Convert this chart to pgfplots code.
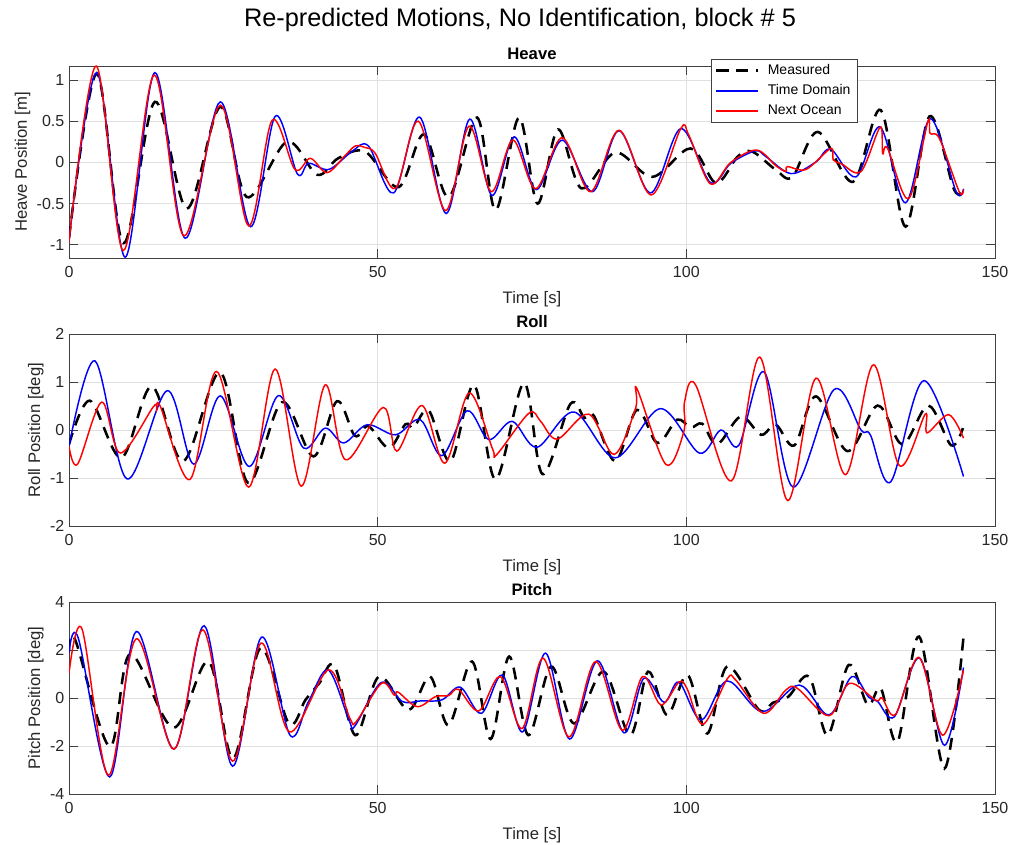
\documentclass[border=0pt]{standalone}
\usepackage{fontspec}
\setmainfont{Liberation Sans}
\usepackage{pgfplots}
\pgfplotsset{compat=1.18}
\begin{document}
\begin{tikzpicture}
\useasboundingbox (0,0) rectangle (757.5pt,-633.75pt);
\pgfplotsset{
 myax/.style={
  scale only axis, width=694.5pt, height=144pt,
  xmin=0, xmax=150, xtick={0,50,100,150},
  grid=major, major grid style={black!12, line width=0.5pt},
  axis line style={black!75, line width=0.6pt},
  tick align=inside, major tick length=6.5pt, tick style={black!75, line width=0.6pt},
  ticklabel style={font=\fontsize{12}{14}\selectfont, black!85},
  xticklabel style={yshift=-3pt},
  label style={font=\fontsize{12.5}{14}\selectfont, black!85},
  title style={font=\bfseries\fontsize{12.5}{14}\selectfont, yshift=-4.5pt},
  xlabel={Time [s]},
  xlabel style={yshift=-3pt},
  ylabel style={yshift=-2pt},
  /pgf/number format/assume math mode=true,
  anchor=north west,
 },
}
\node[font=\fontsize{19}{22}\selectfont, black] at (390pt,-15pt) {Re-predicted Motions, No Identification, block \# 5};

% ---------------- Heave ----------------
\begin{axis}[myax, at={(51.75pt,-49.5pt)},
  ymin=-1.16, ymax=1.17, ytick={-1,-0.5,0,0.5,1},
  title={Heave}, ylabel={Heave Position [m]},
  legend style={at={(rel axis cs:0.693,1.036)}, anchor=north west,
    font=\fontsize{10.5}{12}\selectfont, draw=black!75, row sep=2pt},
  legend cell align=left,
  legend image post style={xscale=1.8},
  ]
\addplot[black, line width=1.9pt, dash pattern=on 9pt off 6pt, smooth, tension=0.55, no markers] coordinates {(0,-0.92) (4.5,1.08) (8.8,-0.98) (13.9,0.735) (19.1,-0.56) (24.5,0.675) (28.8,-0.42) (35.3,0.25) (40.2,-0.15) (43.6,0.05) (48,0.13) (53.4,-0.3) (57.5,0.34) (61.5,-0.42) (66.1,0.545) (69.1,-0.58) (72.9,0.545) (75.9,-0.5) (79.2,0.4) (83.0,-0.315) (88.5,0.12) (94.5,-0.175) (100.7,0.17) (104.8,-0.25) (108.3,0.07) (110.7,0.13) (114.5,-0.09) (117.2,-0.175) (121.3,0.37) (127,-0.235) (131.5,0.635) (135.5,-0.78) (139.4,0.56) (143.4,-0.335) (145,-0.31)};
\addlegendentry{\hspace{5pt}Measured}
\addplot[blue, line width=1.1pt, smooth, tension=0.55, no markers] coordinates {(0,-0.94) (4.5,1.09) (9.1,-1.15) (13.9,1.09) (18.8,-0.92) (24.5,0.735) (29.4,-0.78) (33.4,0.56) (37.0,-0.14) (38.8,-0.01) (42.1,-0.085) (45.8,0.13) (48.5,0.2) (52.6,-0.37) (56.8,0.55) (61.1,-0.62) (64.9,0.525) (68.5,-0.40) (72.1,0.31) (75.7,-0.33) (79.9,0.27) (84.8,-0.355) (89.1,0.385) (94.2,-0.37) (99.1,0.41) (103.9,-0.245) (107.2,-0.01) (111.2,0.14) (112.9,0.07) (116.9,-0.135) (120.9,0) (123.4,0.16) (127.5,-0.175) (131.4,0.43) (135.5,-0.49) (139.5,0.53) (143.7,-0.355) (144.9,-0.32)};
\addlegendentry{\hspace{5pt}Time Domain\hspace{4pt}}
\addplot[red, line width=1.1pt, smooth, tension=0.55, no markers] coordinates {(0,-0.96) (4.4,1.17) (8.8,-1.07) (13.8,1.06) (18.6,-0.89) (24.5,0.695) (29.1,-0.77) (32.9,0.51) (36.6,-0.085) (39.1,0.05) (41.8,-0.125) (44.8,0.09) (46.4,0.2) (48,0.18) (49.6,0.11) (52.9,-0.315) (56.6,0.5) (61.0,-0.585) (64.8,0.44) (68.4,-0.355) (71.9,0.27) (75.6,-0.32) (79.9,0.3) (84.5,-0.355) (89.1,0.39) (94.3,-0.395) (99.1,0.41) (100.4,0.33) (103.9,-0.26) (107.2,0.0) (111.4,0.15) (114.5,-0.04) (116.1,-0.11) (116.4,-0.05) (119.4,-0.085) (123.4,0.17) (123.8,0.03) (125.2,-0.02) (128.3,-0.11) (131.4,0.43) (131.8,0.11) (132.6,0.17) (136,-0.44) (139.1,0.49) (139.5,0.35) (141,0.29) (144.2,-0.355) (144.9,-0.33)};
\addlegendentry{\hspace{5pt}Next Ocean}
\end{axis}

% ---------------- Roll ----------------
\begin{axis}[myax, at={(51.75pt,-250.5pt)},
  ymin=-2, ymax=2, ytick={-2,-1,0,1,2},
  title={Roll}, ylabel={Roll Position [deg]}]
\addplot[black, line width=1.9pt, dash pattern=on 9pt off 6pt, smooth, tension=0.55, no markers] coordinates {(0,-0.3) (3.4,0.61) (8.5,-0.58) (13.4,0.91) (18.5,-0.65) (24.5,1.2) (29,-1.1) (34.5,0.58) (39.6,-0.55) (43.4,0.6) (46.3,-0.12) (48.5,0.08) (51.8,-0.375) (54.5,0.12) (55.8,0.05) (58.3,0.4) (61.8,-0.65) (65.6,0.94) (69.1,-1.03) (73.7,0.98) (76.7,-0.92) (81.2,0.54) (83.5,0.25) (85,0.3) (88.5,-0.65) (92,0.42) (95.3,-0.27) (98.5,0.215) (100.7,0.05) (102.6,0.13) (105,-0.3) (108.8,0.28) (112.1,-0.1) (114.5,0.11) (117.5,-0.32) (121,0.7) (126.1,-0.44) (131,0.51) (135,-0.3) (139.2,0.51) (142.9,-0.32) (144.8,0.04)};
\addplot[blue, line width=1.1pt, smooth, tension=0.55, no markers] coordinates {(0,-0.34) (4.2,1.44) (9.4,-1.02) (15.9,0.82) (20.2,-0.71) (24.5,0.71) (29.2,-0.76) (33.9,0.715) (38.0,-0.375) (41.5,0.04) (44.5,-0.27) (48.3,0.11) (52.9,-0.1) (56.9,0.215) (60.4,-0.535) (64.5,0.4) (68,-0.2) (71.8,0.18) (75.8,-0.36) (81.8,0.375) (88.5,-0.58) (95.8,0.445) (102.1,-0.48) (105.6,0.0) (108.5,-0.32) (112.6,1.21) (117.3,-1.19) (123.9,0.84) (128.3,0.0) (129.8,-0.1) (133.1,-1.08) (138.5,1.03) (144.9,-0.97)};
\addplot[red, line width=1.1pt, smooth, tension=0.55, no markers] coordinates {(0,-0.34) (1.4,-0.71) (5.3,0.58) (8.3,-0.48) (13.7,0.49) (14.2,0.42) (14.8,0.49) (19.6,-1.03) (23.9,1.22) (29.1,-1.19) (33.4,1.27) (37.6,-1.17) (41.5,0.94) (44.8,-0.62) (50.9,0.47) (53.1,-0.44) (57.2,0.51) (60.9,-0.69) (64.8,0.77) (68.6,-0.39) (69.3,-0.51) (74.5,0.35) (76.4,0.18) (79.1,-0.19) (84.2,0.33) (88.3,-0.51) (91.8,0.46) (92.0,0.86) (96.7,-0.72) (99.6,-0.03) (99.7,0.58) (101.5,0.94) (107.3,-1.06) (111.9,1.52) (116.4,-1.47) (121,1.08) (125.8,-0.93) (130.3,1.36) (134.5,-0.74) (138.7,0.33) (139.0,-0.06) (142.5,0.32) (144.9,-0.17)};
\end{axis}

% ---------------- Pitch ----------------
\begin{axis}[myax, at={(51.75pt,-451.5pt)},
  ymin=-4, ymax=4, ytick={-4,-2,0,2,4},
  title={Pitch}, ylabel={Pitch Position [deg]}]
\addplot[black, line width=1.9pt, dash pattern=on 9pt off 6pt, smooth, tension=0.55, no markers] coordinates {(0,1.94) (1,2.43) (6.6,-2.03) (9.9,1.83) (16.9,-1.24) (22.6,1.52) (26.6,-2.52) (31,2.08) (35.6,-1.06) (38.3,-0.08) (40.5,0.6) (43,1.35) (46.4,-1.55) (50.2,0.89) (55,-0.5) (58.5,0.89) (61.5,-1.13) (65.3,1.52) (68.3,-1.71) (71.3,1.73) (74.4,-1.55) (78.1,1.31) (81.8,-1.06) (86.6,1.1) (90.9,-1.55) (93.8,1.1) (96.9,-0.71) (100.2,0.96) (103.4,-1.48) (106.6,1.31) (111.8,-0.5) (114,-0.2) (116.5,0.05) (119.9,0.89) (122.9,-1.55) (126.3,1.38) (129.4,-0.29) (131.5,0.4) (134.2,-1.83) (137.7,2.56) (141.8,-2.94) (144.9,2.56)};
\addplot[blue, line width=1.1pt, smooth, tension=0.55, no markers] coordinates {(0,1.87) (1.5,2.5) (6.6,-3.29) (10.9,2.77) (17,-2.13) (21.9,3.01) (26.5,-2.84) (31.2,2.54) (35.8,-1.55) (38.8,-0.15) (42,1.17) (45.4,-0.95) (46.3,-1.17) (50.6,0.65) (54,-0.15) (57,-0.12) (60.4,-0.08) (63.4,0.45) (66.8,-0.64) (70.2,0.96) (73.5,-1.41) (77.2,1.87) (81.1,-1.71) (85.6,1.55) (89.9,-1.45) (93.1,0.82) (96.4,-0.18) (98.8,0.66) (102.4,-0.92) (106.6,0.71) (112.3,-0.57) (118.3,0.54) (123.1,-0.71) (126.8,0.89) (129.5,0.05) (131,-0.15) (133.7,-0.78) (137.8,1.66) (141.8,-1.97) (144.9,1.27)};
\addplot[red, line width=1.1pt, smooth, tension=0.55, no markers] coordinates {(0,1.03) (2.1,2.88) (6.4,-3.22) (10.9,2.47) (17,-2.13) (21.7,2.84) (26.5,-2.63) (31.1,2.29) (35.7,-1.41) (42,1.17) (45.5,-0.85) (46.6,-0.96) (50.6,0.61) (52.7,0.12) (53.3,0.25) (56.4,-0.36) (59.4,0.06) (61.5,0.1) (63.1,0.36) (66.4,-0.54) (69.9,0.89) (73.4,-1.27) (76.8,1.66) (81,-1.62) (85.3,1.52) (89.6,-1.34) (92.9,0.89) (95.9,-0.29) (98.8,0.66) (100.1,0.4) (102.7,-1.1) (106.6,0.79) (108,0.75) (112.5,-0.64) (116.1,0.33) (118,0.4) (123.1,-0.74) (126.4,0.61) (130.7,-0.1) (131.7,0.0) (133.9,-0.68) (137.7,1.69) (141.5,-1.55) (144.9,1.17)};
\end{axis}
\end{tikzpicture}
\end{document}
